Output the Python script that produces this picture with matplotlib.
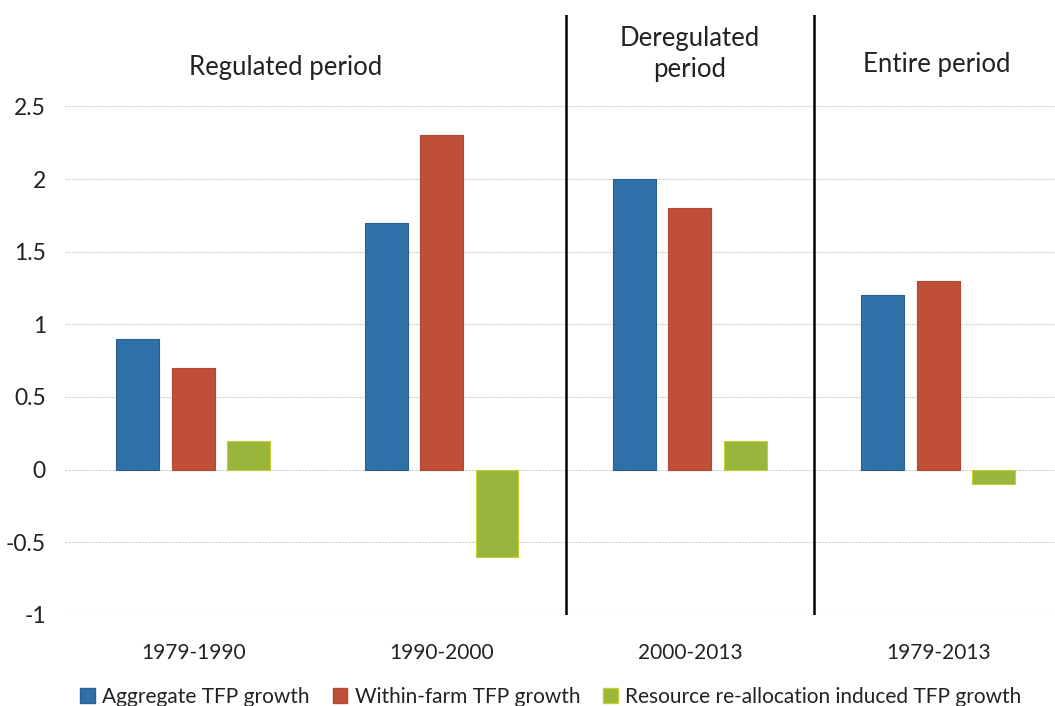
import matplotlib.pyplot as plt
import numpy as np
from matplotlib.patches import Patch

periods = ["1979-1990", "1990-2000", "2000-2013", "1979-2013"]
aggregate = [0.9, 1.7, 2.0, 1.2]
within_farm = [0.7, 2.3, 1.8, 1.3]
reallocation = [0.2, -0.6, 0.2, -0.1]
series_names = ["Aggregate TFP growth", "Within-farm TFP growth",
                "Resource re-allocation induced TFP growth"]
section_titles = ["Regulated period", "Deregulated\nperiod", "Entire period"]
yticks = [-1, -0.5, 0, 0.5, 1, 1.5, 2, 2.5]

colors = ["#2F70A8", "#C04F39", "#98B63C"]
edges = ["#27608F", "#B5452F", "#C7CF30"]

plt.rcParams['font.family'] = ['Lato', 'DejaVu Sans']

fig = plt.figure(figsize=(10.55, 7.06), dpi=100)
ax = fig.add_axes([0.062, 0.129, 0.938, 0.850])

x = np.arange(len(periods))
width = 0.173
offset = 0.223
for i, vals in enumerate([aggregate, within_farm, reallocation]):
    ax.bar(x + (i - 1) * offset, vals, width, color=colors[i],
           edgecolor=edges[i], linewidth=0.8, zorder=3)

ax.set_xlim(-0.515, 3.47)
ax.set_ylim(-1, 3.13)
ax.set_yticks(yticks)
ax.set_yticklabels([f"{t:g}" for t in yticks])
ax.set_xticks(x)
ax.set_xticklabels(periods)
ax.tick_params(axis='both', length=0, colors="#222222")
ax.tick_params(axis='x', pad=20, labelsize=15)
ax.tick_params(axis='y', pad=14, labelsize=16.5)
for s in ax.spines.values():
    s.set_visible(False)
ax.grid(axis='y', color="#d0d0d0", linewidth=0.8, linestyle=(0, (2, 1)), zorder=0)

for xs in (1.5, 2.5):
    ax.axvline(xs, ymin=0, ymax=1, color="black", linewidth=1.8, zorder=4)

ax.text(0.37, 2.77, section_titles[0], ha='center', va='center', fontsize=18.5, color="#222222")
ax.text(2.0, 2.86, section_titles[1], ha='center', va='center', fontsize=18.5,
        color="#222222", linespacing=1.3)
ax.text(2.995, 2.79, section_titles[2], ha='center', va='center', fontsize=18.5, color="#222222")

handles = [Patch(facecolor=c, edgecolor=e) for c, e in zip(colors, edges)]
fig.legend(handles, series_names, loc='center', bbox_to_anchor=(0.522, 0.013),
           ncol=3, frameon=False, fontsize=15, handlelength=0.7, handleheight=0.7,
           handletextpad=0.35, columnspacing=1.1, labelcolor="#222222")

fig.savefig("out.png", dpi=100)
